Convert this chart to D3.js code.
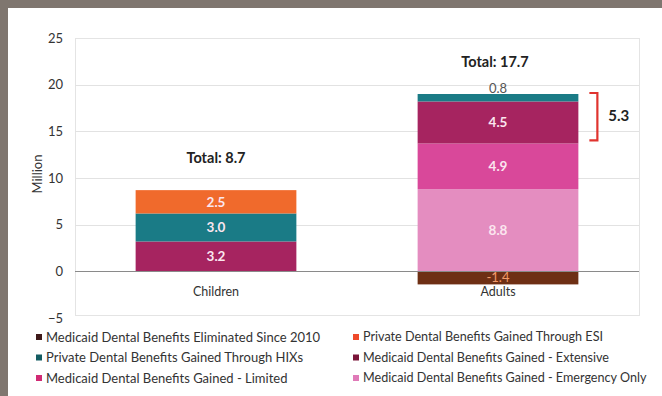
<!DOCTYPE html>
<html><head><meta charset="utf-8">
<script src="https://cdn.jsdelivr.net/npm/d3@7"></script>
<style>
html,body{margin:0;padding:0;background:#fff;}
svg{display:block;font-family:Lato, "Open Sans", sans-serif;}
</style></head>
<body><svg id="c" width="662" height="396"></svg>
<script>
const categories = ["Children", "Adults"];
const seriesNames = [
  "Medicaid Dental Benefits Eliminated Since 2010",
  "Private Dental Benefits Gained Through ESI",
  "Private Dental Benefits Gained Through HIXs",
  "Medicaid Dental Benefits Gained - Extensive",
  "Medicaid Dental Benefits Gained - Limited",
  "Medicaid Dental Benefits Gained - Emergency Only"
];
const seriesColors = ["#6e2f14", "#f06a2c", "#1a7b86", "#a62460", "#d9489a", "#e48dc0"];
const legendColors = ["#3e1a1a", "#ef4a2a", "#145c62", "#7a1438", "#d12a74", "#e07ab8"];
// values per series, [Children, Adults]
const eliminated = [0, -1.4];
const esi = [2.5, 0];
const hix = [3.0, 0.8];
const extensive = [3.2, 4.5];
const limited = [0, 4.9];
const emergency = [0, 8.8];
const totals = ["Total: 8.7", "Total: 17.7"];
const yTicks = [-5, 0, 5, 10, 15, 20, 25];
const bracketLabel = "5.3";

// stacking order (bottom to top) per category
const stackOrder = [
  {name: seriesNames[5], vals: emergency, color: seriesColors[5]},
  {name: seriesNames[4], vals: limited, color: seriesColors[4]},
  {name: seriesNames[3], vals: extensive, color: seriesColors[3]},
  {name: seriesNames[2], vals: hix, color: seriesColors[2]},
  {name: seriesNames[1], vals: esi, color: seriesColors[1]}
];

const svg = d3.select("#c");
// frame
svg.append("rect").attr("x",0).attr("y",0).attr("width",662).attr("height",8).attr("fill","#7f766f");
svg.append("rect").attr("x",0).attr("y",0).attr("width",8).attr("height",396).attr("fill","#7f766f");

const L = 75, R = 639, T = 38, B = 318;
const x = d3.scaleBand().domain(categories).range([L, R]).paddingInner(0.43).paddingOuter(0.215);
const y = d3.scaleLinear().domain([-5, 25]).range([B, T]);

// plot border
svg.append("rect").attr("x",L+0.5).attr("y",T+0.5).attr("width",R-L).attr("height",B-T-3)
  .attr("fill","none").attr("stroke","#e4e4e4").attr("stroke-width",1);
// gridlines
svg.append("g").selectAll("line").data(yTicks.filter(d=>d>-5 && d<25 && d!==0)).join("line")
  .attr("x1",L).attr("x2",R).attr("y1",d=>Math.round(y(d))+0.5).attr("y2",d=>Math.round(y(d))+0.5)
  .attr("stroke","#e2e2e2");

// y axis labels
const yAxis = d3.axisLeft(y).tickValues(yTicks).tickSize(0).tickPadding(0).tickFormat(d3.format("d"));
const ga = svg.append("g").attr("transform",`translate(${L-12},0)`).call(yAxis);
ga.select(".domain").remove();
ga.selectAll("text").attr("font-size","13px").attr("fill","#333").attr("font-family","Lato, sans-serif");

svg.append("text").attr("transform",`translate(42,174) rotate(-90)`).attr("text-anchor","middle")
  .attr("font-size","13px").attr("fill","#333").text("Million");

// bars
const bw = x.bandwidth();
categories.forEach((cat, ci) => {
  let base = 0;
  stackOrder.forEach(s => {
    const v = s.vals[ci];
    if (!v) return;
    svg.append("rect").attr("x", x(cat)).attr("width", bw)
      .attr("y", y(base + v)).attr("height", y(base) - y(base + v)).attr("fill", s.color);
    const mid = y(base + v/2);
    if (v >= 1) {
      svg.append("text").attr("x", x(cat)+bw/2).attr("y", mid).attr("dy","0.35em")
        .attr("text-anchor","middle").attr("font-size","13.5px").attr("font-weight","bold")
        .attr("fill","#fbe6ef").text(v.toFixed(1));
    } else {
      svg.append("text").attr("x", x(cat)+bw/2).attr("y", y(base+v)-1)
        .attr("text-anchor","middle").attr("font-size","13px")
        .attr("fill","#555").text(v.toFixed(1));
    }
    base += v;
  });
  const neg = eliminated[ci];
  if (neg) {
    svg.append("rect").attr("x", x(cat)).attr("width", bw)
      .attr("y", y(0)).attr("height", y(neg) - y(0)).attr("fill", seriesColors[0]);
    svg.append("text").attr("x", x(cat)+bw/2).attr("y", y(neg/2)).attr("dy","0.35em")
      .attr("text-anchor","middle").attr("font-size","13px")
      .attr("fill","#f29a6a").text(neg.toFixed(1));
  }
});

// zero line
svg.append("line").attr("x1",L).attr("x2",R).attr("y1",Math.round(y(0))+0.5).attr("y2",Math.round(y(0))+0.5)
  .attr("stroke","#8a8a8a").attr("stroke-width",1);

// category labels
categories.forEach(cat => {
  svg.append("text").attr("x", x(cat)+bw/2).attr("y", 296).attr("text-anchor","middle")
    .attr("font-size","12.5px").attr("fill","#333").text(cat);
});

// totals
const topVals = categories.map((c,ci)=> d3.sum(stackOrder, s=>s.vals[ci]));
categories.forEach((cat, ci) => {
  svg.append("text").attr("x", x(cat)+bw/2 - (ci?3:0)).attr("y", y(topVals[ci]) - 27).attr("text-anchor","middle")
    .attr("font-size","14.5px").attr("font-weight","bold").attr("fill","#222").text(totals[ci]);
});

// bracket around extensive + HIX for adults
const bTop = y(topVals[1]) - 1, bBot = y(emergency[1] + limited[1]) - 3;
const bx = x("Adults") + bw + 19;
svg.append("path").attr("d",`M${bx-8},${bTop}H${bx}V${bBot}H${bx-8}`)
  .attr("fill","none").attr("stroke","#e0342f").attr("stroke-width",2.2);
svg.append("text").attr("x", bx+11).attr("y",(bTop+bBot)/2 - 1).attr("dy","0.35em")
  .attr("font-size","15px").attr("font-weight","bold").attr("fill","#222").text(bracketLabel);

// legend
seriesNames.forEach((name, i) => {
  const col = i % 2, row = Math.floor(i/2);
  const lx = col ? 353 : 36, ly = 337 + row*20.5;
  svg.append("rect").attr("x", lx).attr("y", ly-3).attr("width",6).attr("height",6).attr("fill", legendColors[i]);
  svg.append("text").attr("x", lx+10).attr("y", ly).attr("dy","0.35em")
    .attr("font-size", col ? "12.6px" : "13px").attr("fill","#333").text(name);
});
</script></body></html>
